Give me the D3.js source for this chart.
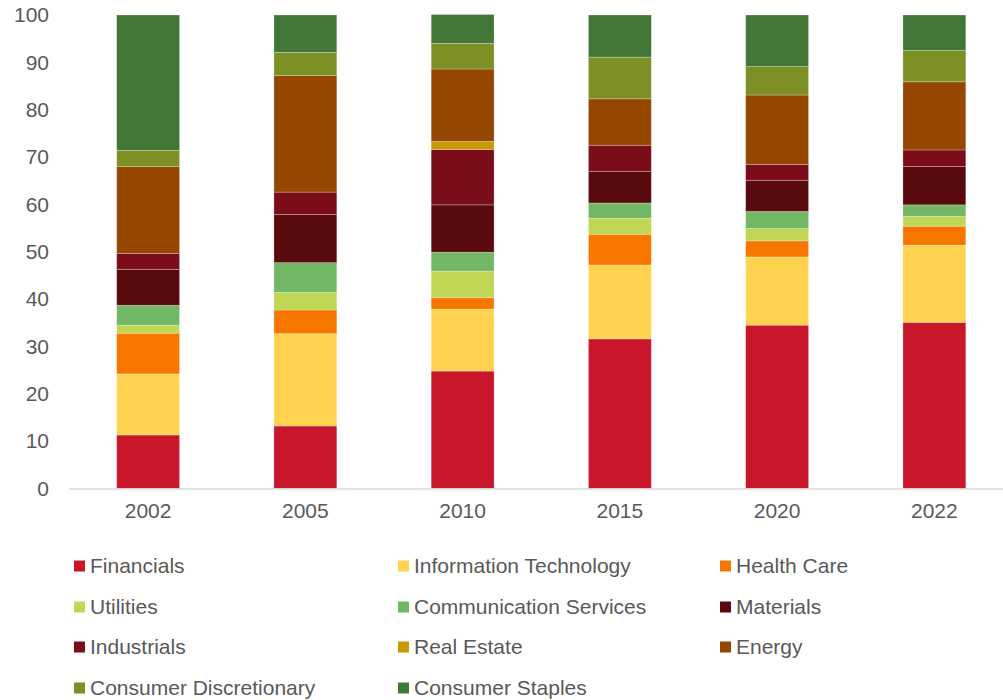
<!DOCTYPE html>
<html>
<head>
<meta charset="utf-8">
<script src="https://cdn.jsdelivr.net/npm/d3@7"></script>
<style>
  body { margin: 0; background: #fff; }
  svg text { font-family: "Liberation Sans", Arial, sans-serif; fill: #595959; }
</style>
</head>
<body>
<svg id="chart" width="1003" height="700"></svg>
<script>
const years = ['2002', '2005', '2010', '2015', '2020', '2022'];

const sectors = [
  'Financials', 'Information Technology', 'Health Care',
  'Utilities', 'Communication Services', 'Materials',
  'Industrials', 'Real Estate', 'Energy',
  'Consumer Discretionary', 'Consumer Staples'
];

const colors = [
  '#C8162B', '#FFD350', '#F77600',
  '#BFD754', '#72B864', '#580A0E',
  '#7B0C1A', '#C99A00', '#954600',
  '#7D9025', '#427737'
];

// share (%) per year, one array per sector
const financials = [11.3, 13.2, 24.8, 31.6, 34.5, 35.1];
const infoTech = [12.9, 19.5, 13.1, 15.6, 14.4, 16.3];
const healthCare = [8.6, 5.0, 2.4, 6.5, 3.4, 4.0];
const utilities = [1.7, 3.7, 5.6, 3.4, 2.6, 2.1];
const commServices = [4.2, 6.3, 4.0, 3.2, 3.6, 2.4];
const materials = [7.6, 10.2, 10.0, 6.7, 6.6, 8.1];
const industrials = [3.3, 4.7, 11.7, 5.5, 3.3, 3.5];
const realEstate = [0, 0, 1.7, 0, 0, 0];
const energy = [18.4, 24.6, 15.3, 9.8, 14.7, 14.4];
const consDiscretionary = [3.4, 4.9, 5.4, 8.8, 6.0, 6.6];
const consStaples = [28.6, 7.9, 6.1, 8.9, 10.9, 7.5];

const seriesValues = [
  financials, infoTech, healthCare, utilities, commServices, materials,
  industrials, realEstate, energy, consDiscretionary, consStaples
];

const yTicks = [0, 10, 20, 30, 40, 50, 60, 70, 80, 90, 100];

const table = years.map((year, i) => {
  const row = { year };
  sectors.forEach((s, j) => { row[s] = seriesValues[j][i]; });
  return row;
});

const svg = d3.select('#chart');
const margin = { left: 69.5, right: 1013, top: 15, bottom: 488.5 };

const x = d3.scaleBand()
  .domain(years)
  .range([margin.left, margin.right])
  .paddingInner(0.6)
  .paddingOuter(0.3);

const y = d3.scaleLinear()
  .domain([0, 100])
  .range([margin.bottom, margin.top]);

const color = d3.scaleOrdinal().domain(sectors).range(colors);

const stacked = d3.stack().keys(sectors)(table);

const layers = svg.append('g').selectAll('g')
  .data(stacked)
  .join('g')
  .attr('fill', d => color(d.key));

layers.selectAll('rect')
  .data(d => d.filter(p => p[1] - p[0] > 0))
  .join('rect')
  .attr('x', d => x(d.data.year))
  .attr('width', x.bandwidth())
  .attr('y', d => y(d[1]))
  .attr('height', d => y(d[0]) - y(d[1]))
  .attr('stroke', 'rgba(255,255,255,0.35)')
  .attr('stroke-width', 0.75);

// y axis labels, no line
const yAxis = svg.append('g')
  .attr('transform', 'translate(49,0)')
  .call(d3.axisLeft(y).tickValues(yTicks).tickSize(0).tickPadding(0));
yAxis.select('.domain').remove();
yAxis.selectAll('text')
  .attr('font-size', 21)
  .attr('font-family', null);

// x axis line and labels
svg.append('line')
  .attr('x1', margin.left)
  .attr('x2', 1003)
  .attr('y1', y(0) + 0.5)
  .attr('y2', y(0) + 0.5)
  .attr('stroke', '#d9d9d9')
  .attr('stroke-width', 1.5);

const xAxis = svg.append('g')
  .attr('transform', `translate(0,${y(0)})`)
  .call(d3.axisBottom(x).tickSize(0).tickPadding(15));
xAxis.select('.domain').remove();
xAxis.selectAll('text')
  .attr('font-size', 21)
  .attr('font-family', null);

// legend, three columns
const legendCols = [74, 398, 720];
const legendRows = [566, 607, 647, 688];
const legend = svg.append('g').selectAll('g')
  .data(sectors)
  .join('g')
  .attr('transform', (d, i) => `translate(${legendCols[i % 3]},${legendRows[Math.floor(i / 3)]})`);

legend.append('rect')
  .attr('x', 0)
  .attr('y', -5.5)
  .attr('width', 11)
  .attr('height', 11)
  .attr('fill', d => color(d));

legend.append('text')
  .attr('x', 16)
  .attr('dy', '0.35em')
  .attr('font-size', 21)
  .text(d => d);
</script>
</body>
</html>
